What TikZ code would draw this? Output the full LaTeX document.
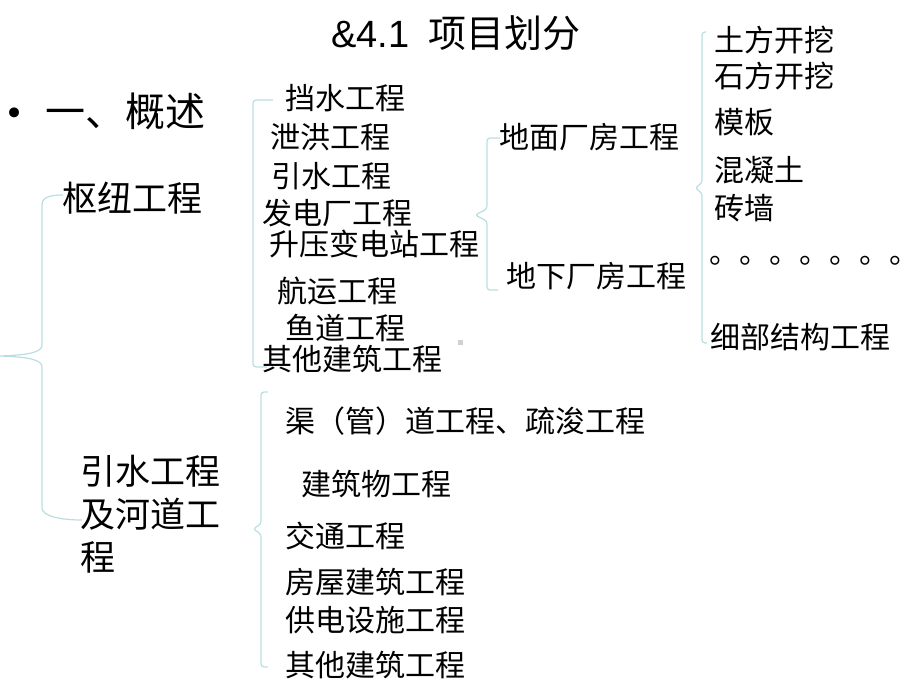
\documentclass[tikz,border=0pt]{standalone}
\usepackage{fontspec}
\setmainfont{Noto Sans CJK SC}
\newfontfamily\latinfont{Liberation Sans}
\newfontfamily\symfont{DejaVu Sans}
\newcommand\fz[1]{\fontsize{#1}{#1}\selectfont}
\definecolor{bracecol}{RGB}{185,222,226}
\tikzset{
  txt/.style={anchor=base west, inner sep=0pt, outer sep=0pt, text=black},
  s30/.style={txt, font=\fz{30}},
  s35/.style={txt, font=\fz{35}},
  brace/.style={draw=bracecol, line width=1.2pt, rounded corners=3pt},
  bigbrace/.style={draw=bracecol, line width=1.2pt},
}
\begin{document}
\begin{tikzpicture}[x=1pt,y=-1pt]
\useasboundingbox (0,0) rectangle (920,690);
% title
\node[txt, font=\fz{38}] (title) at (331,48) {{\latinfont \&4.1}\hspace{19pt}项目划分};
% bullet heading
\node[txt, font=\symfont\fz{34}] (bul) at (5,125) {•};
\node[txt, font=\fz{40}] (intro) at (45,126) {一、概述};
% level 1
\node[s35] (hub) at (62,211) {枢纽工程};
\node[txt, align=left, font=\fontsize{35}{43}\selectfont] (river) at (80,570) {引水工程\\及河道工\\程};
% level 2 (hub)
\node[s30] (h1) at (285,110) {挡水工程};
\node[s30] (h2) at (270,148) {泄洪工程};
\node[s30] (h3) at (271,187) {引水工程};
\node[s30] (h4) at (262,224) {发电厂工程};
\node[s30] (h5) at (269,255) {升压变电站工程};
\node[s30] (h6) at (277,302) {航运工程};
\node[s30] (h7) at (285,339) {鱼道工程};
\node[s30] (h8) at (262,370) {其他建筑工程};
\node[fill=black!18, minimum size=5pt, inner sep=0pt] (sq) at (460,342) {};
% level 3 (power house)
\node[s30] (p1) at (499,148) {地面厂房工程};
\node[s30] (p2) at (506,287) {地下厂房工程};
% level 4
\node[s30] (w1) at (714,52) {土方开挖};
\node[s30] (w2) at (714,88) {石方开挖};
\node[s30] (w3) at (714,133) {模板};
\node[s30] (w4) at (714,181) {混凝土};
\node[s30] (w5) at (714,219) {砖墙};
\node[s30] (w6) at (709,263) {。。。。。。。};
\node[s30] (w7) at (710,348) {细部结构工程};
% level 2 (river)
\node[s30] (r1) at (285,432) {渠（管）道工程、疏浚工程};
\node[s30] (r2) at (301,495) {建筑物工程};
\node[s30] (r3) at (285,547) {交通工程};
\node[s30] (r4) at (285,593) {房屋建筑工程};
\node[s30] (r5) at (285,631) {供电设施工程};
\node[s30] (r6) at (285,676) {其他建筑工程};
% braces
\coordinate (tip0) at (0,356);
\draw[bigbrace] (63,195) .. controls (50,195) and (42,197) .. (42,205) -- (42,345)
  .. controls (42,352) and (30,355) .. (tip0)
  .. controls (30,357) and (42,360) .. (42,367) -- (42,508)
  .. controls (42,516) and (60,520) .. (82,520);
\draw[brace] (273,100) -- (253,100) -- (253,367) -- (267,367);
\coordinate (tip3) at (475,215);
\draw[brace] (500,138) -- (487,138) -- (487,209) -- (tip3) -- (487,221) -- (487,290) -- (498,290);
\coordinate (tip4) at (695,188);
\draw[brace] (706,32) -- (702,32) -- (702,183) -- (tip4) -- (702,193) -- (702,343) -- (707,343);
\coordinate (tip5) at (253,529);
\draw[brace] (268,392) -- (261,392) -- (261,524) -- (tip5) -- (261,534) -- (261,667) -- (268,667);
\end{tikzpicture}
\end{document}
